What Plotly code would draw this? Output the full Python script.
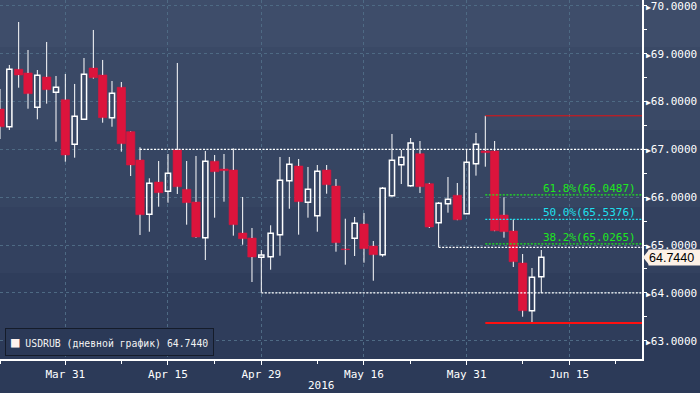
import numpy as np
import pandas as pd
import plotly.graph_objects as go

# ---------------- data ----------------
dates = pd.bdate_range("2016-03-22", "2016-06-10").strftime("%Y-%m-%d").tolist()

open_ = [67.846, 67.475, 68.676, 68.599, 67.881, 68.515, 68.195, 68.040, 67.107, 67.630,
         68.703, 68.557, 67.664, 68.300, 67.371, 66.779, 65.643, 66.319, 66.124, 66.988,
         66.166, 65.900, 65.154, 66.752, 66.591, 66.570, 65.252, 65.147, 64.744, 64.756,
         65.217, 66.346, 66.653, 65.894, 65.614, 66.570, 66.235, 64.917, 65.141, 65.440,
         64.980, 64.798, 66.032, 66.681, 66.241, 66.911, 66.283, 65.468, 65.865, 66.041,
         65.656, 66.702, 66.967, 66.967, 65.629, 65.294, 64.625, 63.627, 64.338]
high_ = [68.264, 68.766, 69.665, 69.080, 68.661, 69.247, 68.536, 68.578, 68.369, 68.912,
         69.498, 68.871, 68.431, 68.410, 67.380, 67.045, 66.396, 66.758, 66.904, 68.808,
         66.758, 66.863, 66.967, 66.884, 66.904, 67.024, 66.005, 65.357, 64.896, 65.413,
         66.842, 66.842, 66.800, 66.633, 66.674, 66.674, 66.382, 65.551, 65.587, 65.670,
         65.085, 66.214, 67.323, 66.988, 67.239, 67.176, 66.300, 65.900, 66.423, 66.298,
         67.003, 67.344, 67.7033, 67.176, 65.999, 65.539, 64.813, 64.520, 64.896]
low_ = [67.218, 67.406, 68.291, 67.852, 67.630, 67.957, 67.162, 66.743, 66.827, 67.620,
        68.480, 67.559, 67.475, 66.953, 66.444, 65.210, 65.279, 65.802, 65.886, 66.068,
        65.426, 65.154, 64.687, 65.572, 65.907, 65.196, 65.007, 64.227, 64.005, 64.484,
        64.777, 65.760, 65.217, 65.572, 65.279, 66.074, 64.861, 64.589, 64.771, 64.631,
        64.254, 64.756, 66.011, 66.277, 66.220, 66.089, 65.357, 64.953, 65.677, 65.520,
        65.650, 66.451, 66.639, 65.290, 65.154, 64.541, 63.501, 63.3719, 63.991]
close_ = [67.475, 68.676, 68.557, 68.166, 68.551, 68.249, 68.300, 66.884, 67.693, 68.571,
          68.500, 67.664, 68.174, 67.120, 66.674, 65.635, 66.292, 66.095, 66.501, 66.220,
          65.886, 65.168, 66.752, 66.534, 66.555, 65.426, 65.133, 64.750, 64.792, 65.246,
          66.354, 66.689, 65.907, 66.166, 66.543, 66.262, 65.049, 64.905, 65.455, 64.924,
          64.798, 66.187, 66.773, 66.835, 67.135, 66.220, 65.378, 65.873, 65.957, 65.530,
          66.731, 67.107, 66.932, 65.300, 65.279, 64.652, 63.627, 64.325, 64.744]

major_tick_dates = ["2016-03-31", "2016-04-15", "2016-04-29", "2016-05-16", "2016-05-31", "2016-06-15"]
minor_tick_dates = ["2016-03-22", "2016-04-08", "2016-04-22", "2016-05-09", "2016-05-23", "2016-06-08", "2016-06-22"]
y_ticks = [63, 64, 65, 66, 67, 68, 69, 70]
year_label = "2016"

support_levels = [67.0, 64.953, 64.0]
support_from = ["2016-04-12", "2016-05-26", "2016-04-29"]

swing_from = "2016-06-02"
swing_high = 67.7033
swing_low = 63.3719
fib_names = ["61.8%", "50.0%", "38.2%"]
fib_levels = [66.0487, 65.5376, 65.0265]
fib_colors = ["#1ee81e", "#1fe0ee", "#1ee81e"]

series_name = "USDRUB (дневной график)"

# ---------------- helpers ----------------
origin = dates[0]
def pos(d):
    return int(np.busday_count(origin, d))

X_RANGE = [0.0, 68.79]
Y_RANGE = [62.617, 70.125]

MONO = "DejaVu Sans Mono"
RED = "#dc143c"
GRID = "#4e6a84"

xs = [pos(d) for d in dates]
inc = [i for i in range(len(dates)) if close_[i] >= open_[i]]
dec = [i for i in range(len(dates)) if close_[i] < open_[i]]

# wicks (upper and lower segments so hollow bodies stay empty)
wx, wy = [], []
for i in range(len(dates)):
    top = max(open_[i], close_[i])
    bot = min(open_[i], close_[i])
    wx += [xs[i], xs[i], None, xs[i], xs[i], None]
    wy += [top, high_[i], None, low_[i], bot, None]

fig = go.Figure()

# background gradient bands (whole figure)
band_edges = [0, 47, 130, 207, 273, 340, 393]
band_colors = ["#3e4d6a", "#3a4966", "#364562", "#33415f", "#2f3d5b", "#2c3a58"]
PLOT_H = 359.0
for k in range(len(band_colors)):
    fig.add_shape(type="rect", xref="paper", yref="paper",
                  x0=-0.01, x1=1.2,
                  y0=(PLOT_H - band_edges[k + 1]) / PLOT_H,
                  y1=(PLOT_H - band_edges[k]) / PLOT_H,
                  fillcolor=band_colors[k], line_width=0, layer="below")

fig.add_trace(go.Scatter(x=wx, y=wy, mode="lines",
                         line=dict(color="white", width=1), hoverinfo="skip"))

fig.add_trace(go.Bar(x=[xs[i] for i in dec],
                     base=[min(open_[i], close_[i]) for i in dec],
                     y=[abs(close_[i] - open_[i]) for i in dec],
                     width=0.9, marker=dict(color=RED, line=dict(color=RED, width=0.6))))
fig.add_trace(go.Bar(x=[xs[i] for i in inc],
                     base=[min(open_[i], close_[i]) for i in inc],
                     y=[abs(close_[i] - open_[i]) for i in inc],
                     width=0.55, marker=dict(color="rgba(0,0,0,0)", line=dict(color="white", width=1.5))))

# support / resistance dotted lines
for lvl, d in zip(support_levels, support_from):
    fig.add_shape(type="line", xref="x", yref="y", x0=pos(d), x1=X_RANGE[1], y0=lvl, y1=lvl,
                  line=dict(color="white", width=1.3, dash="2px,1.5px"))

# swing high / low
fig.add_shape(type="line", xref="x", yref="y", x0=pos(swing_from), x1=X_RANGE[1],
              y0=swing_high, y1=swing_high, line=dict(color="#e81010", width=1))
fig.add_shape(type="line", xref="x", yref="y", x0=pos(swing_from), x1=X_RANGE[1],
              y0=swing_low, y1=swing_low, line=dict(color="#ff1010", width=2))

# fibonacci levels
for name, lvl, col in zip(fib_names, fib_levels, fib_colors):
    fig.add_shape(type="line", xref="x", yref="y", x0=pos(swing_from), x1=X_RANGE[1],
                  y0=lvl, y1=lvl, line=dict(color=col, width=1.3, dash="2px,1.5px"))
    fig.add_annotation(xref="paper", yref="y", x=1, y=lvl, xanchor="right", yanchor="bottom",
                       xshift=-4, yshift=-2, text=f"{name}({lvl:.4f})", showarrow=False,
                       font=dict(family=MONO, size=11, color=col))

# last price tag
last = close_[-1]
ypaper = (last - Y_RANGE[0]) / (Y_RANGE[1] - Y_RANGE[0])
fig.add_annotation(xref="paper", yref="y", x=1, y=last, xanchor="left", yanchor="middle",
                   xshift=6, text=f"{last:.4f}", showarrow=False, align="left",
                   width=60, height=15, borderpad=0, bgcolor="#fdf1e7",
                   font=dict(family="Liberation Sans", size=12.5, color="black"))
fig.add_shape(type="path", xref="paper", yref="paper", xsizemode="pixel", ysizemode="pixel",
              xanchor=1, yanchor=ypaper, path="M 1,0 L 7,7.5 L 7,-7.5 Z",
              fillcolor="#fdf1e7", line_width=0)

# legend box
fig.add_annotation(xref="paper", yref="paper", x=0, y=0, xanchor="left", yanchor="bottom",
                   xshift=5, yshift=3, showarrow=False,
                   text=f"<span style='font-size:14px;color:#fff3ee'>■</span> {series_name} {last:.4f}",
                   font=dict(family=MONO, size=9.8, color="#f2f2f2"),
                   bgcolor="#2b3957", bordercolor="#151c2a", borderwidth=1, borderpad=5)

# year label
fig.add_annotation(xref="paper", yref="paper", x=0.5, y=0, xanchor="center", yanchor="top",
                   yshift=-18, text=year_label, showarrow=False,
                   font=dict(family=MONO, size=11, color="white"))

fig.update_layout(
    width=700, height=393,
    margin=dict(l=0, r=58, t=0, b=34, autoexpand=False),
    paper_bgcolor="#2c3a58", plot_bgcolor="rgba(0,0,0,0)",
    barmode="overlay", showlegend=False,
    xaxis=dict(range=X_RANGE, tickmode="array", automargin=False,
               tickvals=[pos(d) for d in major_tick_dates],
               ticktext=[pd.Timestamp(d).strftime("%b %d") for d in major_tick_dates],
               showgrid=True, gridcolor=GRID, griddash="3px,3px", gridwidth=1,
               ticks="outside", ticklen=4, tickcolor="white",
               showline=True, linecolor="white", linewidth=1.5, zeroline=False,
               tickfont=dict(family=MONO, size=11, color="white"),
               minor=dict(tickmode="array", tickvals=[pos(d) for d in minor_tick_dates],
                          ticks="outside", ticklen=3, tickcolor="white", showgrid=False)),
    yaxis=dict(range=Y_RANGE, side="right", tickmode="array", tickvals=y_ticks, automargin=False,
               ticktext=[f"<span style='font-size:8px'>▶</span>{v:.4f}" for v in y_ticks],
               ticklabeloverflow="allow",
               showgrid=True, gridcolor=GRID, griddash="3px,3px", gridwidth=1,
               ticks="", showline=True, linecolor="white", linewidth=1.5, zeroline=False,
               tickfont=dict(family=MONO, size=11, color="white"),
               minor=dict(dtick=0.5, tick0=0, ticks="outside", ticklen=3, tickcolor="white",
                          showgrid=False)),
)

fig.write_html("out.html", config={"displayModeBar": False},
               post_script="document.body.style.margin='0';document.body.style.padding='0';")
